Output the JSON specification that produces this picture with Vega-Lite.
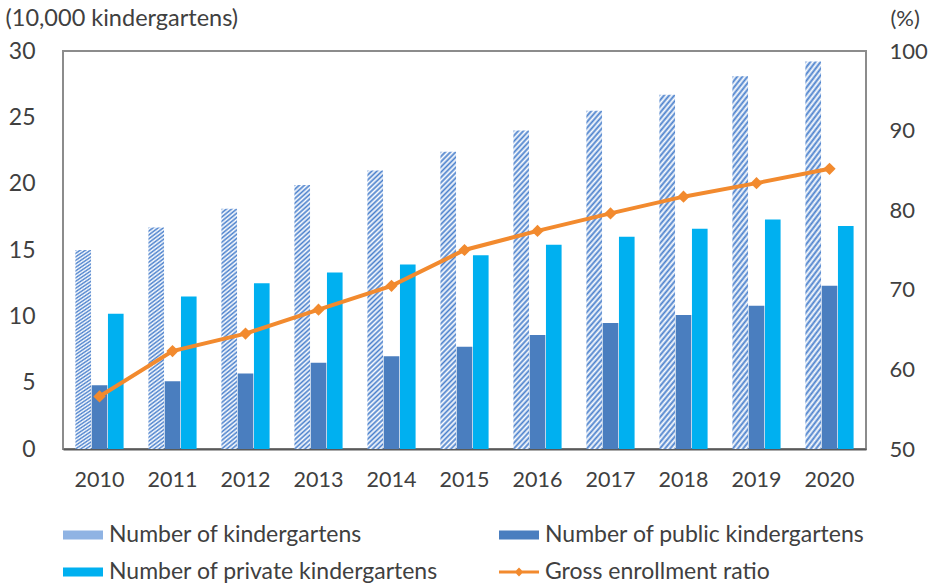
{
  "$schema": "https://vega.github.io/schema/vega-lite/v6.json",
  "width": 803,
  "height": 398,
  "autosize": {"type": "none"},
  "padding": {"left": 63, "top": 51, "right": 62, "bottom": 137},
  "background": "white",
  "config": {
    "font": "Lato",
    "view": {"stroke": "#8c8c8c", "strokeWidth": 2},
    "axis": {"labelFont": "Lato", "labelFontSize": 22, "labelColor": "#404040", "titleFont": "Lato", "titleColor": "#404040", "titleFontWeight": "normal", "grid": false, "ticks": false},
    "legend": {"orient": "bottom", "columns": 2, "labelFont": "Lato", "labelFontSize": 23, "labelColor": "#404040", "symbolSize": 1600, "symbolType": "M-1,-0.22L1,-0.22L1,0.22L-1,0.22Z", "labelOffset": 6, "rowPadding": 5, "columnPadding": 60, "offset": 24, "labelLimit": 600, "symbolStrokeWidth": 0}
  },
  "datasets": {
    "bars": [
      {"year": "2010", "series": "Number of kindergartens", "value": 15.0},
      {"year": "2011", "series": "Number of kindergartens", "value": 16.7},
      {"year": "2012", "series": "Number of kindergartens", "value": 18.1},
      {"year": "2013", "series": "Number of kindergartens", "value": 19.9},
      {"year": "2014", "series": "Number of kindergartens", "value": 21.0},
      {"year": "2015", "series": "Number of kindergartens", "value": 22.4},
      {"year": "2016", "series": "Number of kindergartens", "value": 24.0},
      {"year": "2017", "series": "Number of kindergartens", "value": 25.5},
      {"year": "2018", "series": "Number of kindergartens", "value": 26.7},
      {"year": "2019", "series": "Number of kindergartens", "value": 28.1},
      {"year": "2020", "series": "Number of kindergartens", "value": 29.2},
      {"year": "2010", "series": "Number of public kindergartens", "value": 4.8},
      {"year": "2011", "series": "Number of public kindergartens", "value": 5.1},
      {"year": "2012", "series": "Number of public kindergartens", "value": 5.7},
      {"year": "2013", "series": "Number of public kindergartens", "value": 6.5},
      {"year": "2014", "series": "Number of public kindergartens", "value": 7.0},
      {"year": "2015", "series": "Number of public kindergartens", "value": 7.7},
      {"year": "2016", "series": "Number of public kindergartens", "value": 8.6},
      {"year": "2017", "series": "Number of public kindergartens", "value": 9.5},
      {"year": "2018", "series": "Number of public kindergartens", "value": 10.1},
      {"year": "2019", "series": "Number of public kindergartens", "value": 10.8},
      {"year": "2020", "series": "Number of public kindergartens", "value": 12.3},
      {"year": "2010", "series": "Number of private kindergartens", "value": 10.2},
      {"year": "2011", "series": "Number of private kindergartens", "value": 11.5},
      {"year": "2012", "series": "Number of private kindergartens", "value": 12.5},
      {"year": "2013", "series": "Number of private kindergartens", "value": 13.3},
      {"year": "2014", "series": "Number of private kindergartens", "value": 13.9},
      {"year": "2015", "series": "Number of private kindergartens", "value": 14.6},
      {"year": "2016", "series": "Number of private kindergartens", "value": 15.4},
      {"year": "2017", "series": "Number of private kindergartens", "value": 16.0},
      {"year": "2018", "series": "Number of private kindergartens", "value": 16.6},
      {"year": "2019", "series": "Number of private kindergartens", "value": 17.3},
      {"year": "2020", "series": "Number of private kindergartens", "value": 16.8}
    ],
    "ratio": [
      {"year": "2010", "series": "Gross enrollment ratio", "value": 56.6},
      {"year": "2011", "series": "Gross enrollment ratio", "value": 62.3},
      {"year": "2012", "series": "Gross enrollment ratio", "value": 64.5},
      {"year": "2013", "series": "Gross enrollment ratio", "value": 67.5},
      {"year": "2014", "series": "Gross enrollment ratio", "value": 70.5},
      {"year": "2015", "series": "Gross enrollment ratio", "value": 75.0},
      {"year": "2016", "series": "Gross enrollment ratio", "value": 77.4},
      {"year": "2017", "series": "Gross enrollment ratio", "value": 79.6},
      {"year": "2018", "series": "Gross enrollment ratio", "value": 81.7},
      {"year": "2019", "series": "Gross enrollment ratio", "value": 83.4},
      {"year": "2020", "series": "Gross enrollment ratio", "value": 85.2}
    ]
  },
  "layer": [
    {
      "data": {"name": "bars"},
      "mark": {"type": "bar"},
      "encoding": {
        "x": {"field": "year", "type": "ordinal", "scale": {"paddingInner": 0.34, "paddingOuter": 0.17}, "axis": {"title": null, "labelAngle": 0, "labelPadding": 20, "labelFontSize": 21.5, "domainColor": "#595959", "domainWidth": 2, "ticks": false}},
        "xOffset": {"field": "series", "type": "nominal", "scale": {"domain": ["Number of kindergartens", "Number of public kindergartens", "Number of private kindergartens"], "paddingInner": 0.04}},
        "y": {"field": "value", "type": "quantitative", "scale": {"domain": [0, 30], "nice": false}, "axis": {"title": "(10,000 kindergartens)", "titleAngle": 0, "titleAlign": "left", "titleBaseline": "middle", "titleX": -58, "titleY": -33, "titleFontSize": 23.5, "values": [0, 5, 10, 15, 20, 25, 30], "labelFontSize": 23, "labelPadding": 28, "domain": false, "ticks": false}},
        "color": {
          "condition": {"test": "datum.series === 'Number of kindergartens'", "value": {"gradient": "linear", "x1": 0, "y1": 0, "x2": 0.056, "y2": 1.05, "stops": [
            {"offset": 0, "color": "#4A80CC"}, {"offset": 0.0083, "color": "#FFFFFF"}, {"offset": 0.0167, "color": "#4A80CC"}, {"offset": 0.025, "color": "#FFFFFF"}, {"offset": 0.0333, "color": "#4A80CC"}, {"offset": 0.0417, "color": "#FFFFFF"}, {"offset": 0.05, "color": "#4A80CC"}, {"offset": 0.0583, "color": "#FFFFFF"}, {"offset": 0.0667, "color": "#4A80CC"}, {"offset": 0.075, "color": "#FFFFFF"}, {"offset": 0.0833, "color": "#4A80CC"}, {"offset": 0.0917, "color": "#FFFFFF"},
            {"offset": 0.1, "color": "#4A80CC"}, {"offset": 0.1083, "color": "#FFFFFF"}, {"offset": 0.1167, "color": "#4A80CC"}, {"offset": 0.125, "color": "#FFFFFF"}, {"offset": 0.1333, "color": "#4A80CC"}, {"offset": 0.1417, "color": "#FFFFFF"}, {"offset": 0.15, "color": "#4A80CC"}, {"offset": 0.1583, "color": "#FFFFFF"}, {"offset": 0.1667, "color": "#4A80CC"}, {"offset": 0.175, "color": "#FFFFFF"}, {"offset": 0.1833, "color": "#4A80CC"}, {"offset": 0.1917, "color": "#FFFFFF"},
            {"offset": 0.2, "color": "#4A80CC"}, {"offset": 0.2083, "color": "#FFFFFF"}, {"offset": 0.2167, "color": "#4A80CC"}, {"offset": 0.225, "color": "#FFFFFF"}, {"offset": 0.2333, "color": "#4A80CC"}, {"offset": 0.2417, "color": "#FFFFFF"}, {"offset": 0.25, "color": "#4A80CC"}, {"offset": 0.2583, "color": "#FFFFFF"}, {"offset": 0.2667, "color": "#4A80CC"}, {"offset": 0.275, "color": "#FFFFFF"}, {"offset": 0.2833, "color": "#4A80CC"}, {"offset": 0.2917, "color": "#FFFFFF"},
            {"offset": 0.3, "color": "#4A80CC"}, {"offset": 0.3083, "color": "#FFFFFF"}, {"offset": 0.3167, "color": "#4A80CC"}, {"offset": 0.325, "color": "#FFFFFF"}, {"offset": 0.3333, "color": "#4A80CC"}, {"offset": 0.3417, "color": "#FFFFFF"}, {"offset": 0.35, "color": "#4A80CC"}, {"offset": 0.3583, "color": "#FFFFFF"}, {"offset": 0.3667, "color": "#4A80CC"}, {"offset": 0.375, "color": "#FFFFFF"}, {"offset": 0.3833, "color": "#4A80CC"}, {"offset": 0.3917, "color": "#FFFFFF"},
            {"offset": 0.4, "color": "#4A80CC"}, {"offset": 0.4083, "color": "#FFFFFF"}, {"offset": 0.4167, "color": "#4A80CC"}, {"offset": 0.425, "color": "#FFFFFF"}, {"offset": 0.4333, "color": "#4A80CC"}, {"offset": 0.4417, "color": "#FFFFFF"}, {"offset": 0.45, "color": "#4A80CC"}, {"offset": 0.4583, "color": "#FFFFFF"}, {"offset": 0.4667, "color": "#4A80CC"}, {"offset": 0.475, "color": "#FFFFFF"}, {"offset": 0.4833, "color": "#4A80CC"}, {"offset": 0.4917, "color": "#FFFFFF"},
            {"offset": 0.5, "color": "#4A80CC"}, {"offset": 0.5083, "color": "#FFFFFF"}, {"offset": 0.5167, "color": "#4A80CC"}, {"offset": 0.525, "color": "#FFFFFF"}, {"offset": 0.5333, "color": "#4A80CC"}, {"offset": 0.5417, "color": "#FFFFFF"}, {"offset": 0.55, "color": "#4A80CC"}, {"offset": 0.5583, "color": "#FFFFFF"}, {"offset": 0.5667, "color": "#4A80CC"}, {"offset": 0.575, "color": "#FFFFFF"}, {"offset": 0.5833, "color": "#4A80CC"}, {"offset": 0.5917, "color": "#FFFFFF"},
            {"offset": 0.6, "color": "#4A80CC"}, {"offset": 0.6083, "color": "#FFFFFF"}, {"offset": 0.6167, "color": "#4A80CC"}, {"offset": 0.625, "color": "#FFFFFF"}, {"offset": 0.6333, "color": "#4A80CC"}, {"offset": 0.6417, "color": "#FFFFFF"}, {"offset": 0.65, "color": "#4A80CC"}, {"offset": 0.6583, "color": "#FFFFFF"}, {"offset": 0.6667, "color": "#4A80CC"}, {"offset": 0.675, "color": "#FFFFFF"}, {"offset": 0.6833, "color": "#4A80CC"}, {"offset": 0.6917, "color": "#FFFFFF"},
            {"offset": 0.7, "color": "#4A80CC"}, {"offset": 0.7083, "color": "#FFFFFF"}, {"offset": 0.7167, "color": "#4A80CC"}, {"offset": 0.725, "color": "#FFFFFF"}, {"offset": 0.7333, "color": "#4A80CC"}, {"offset": 0.7417, "color": "#FFFFFF"}, {"offset": 0.75, "color": "#4A80CC"}, {"offset": 0.7583, "color": "#FFFFFF"}, {"offset": 0.7667, "color": "#4A80CC"}, {"offset": 0.775, "color": "#FFFFFF"}, {"offset": 0.7833, "color": "#4A80CC"}, {"offset": 0.7917, "color": "#FFFFFF"},
            {"offset": 0.8, "color": "#4A80CC"}, {"offset": 0.8083, "color": "#FFFFFF"}, {"offset": 0.8167, "color": "#4A80CC"}, {"offset": 0.825, "color": "#FFFFFF"}, {"offset": 0.8333, "color": "#4A80CC"}, {"offset": 0.8417, "color": "#FFFFFF"}, {"offset": 0.85, "color": "#4A80CC"}, {"offset": 0.8583, "color": "#FFFFFF"}, {"offset": 0.8667, "color": "#4A80CC"}, {"offset": 0.875, "color": "#FFFFFF"}, {"offset": 0.8833, "color": "#4A80CC"}, {"offset": 0.8917, "color": "#FFFFFF"},
            {"offset": 0.9, "color": "#4A80CC"}, {"offset": 0.9083, "color": "#FFFFFF"}, {"offset": 0.9167, "color": "#4A80CC"}, {"offset": 0.925, "color": "#FFFFFF"}, {"offset": 0.9333, "color": "#4A80CC"}, {"offset": 0.9417, "color": "#FFFFFF"}, {"offset": 0.95, "color": "#4A80CC"}, {"offset": 0.9583, "color": "#FFFFFF"}, {"offset": 0.9667, "color": "#4A80CC"}, {"offset": 0.975, "color": "#FFFFFF"}, {"offset": 0.9833, "color": "#4A80CC"}, {"offset": 0.9917, "color": "#FFFFFF"},
            {"offset": 1, "color": "#4A80CC"}
          ]}},
          "field": "series",
          "type": "nominal",
          "scale": {"domain": ["Number of kindergartens", "Number of public kindergartens", "Number of private kindergartens", "Gross enrollment ratio"], "range": ["#8FB3E3", "#4A7EBF", "#00B0F0", "#F28A2E"]},
          "legend": {
            "title": null,
            "encode": {
              "symbols": {
                "update": {
                  "shape": {"signal": "datum.value === 'Gross enrollment ratio' ? 'M-1,-0.075L1,-0.075L1,0.075L-1,0.075Z M0,-0.22L0.22,0L0,0.22L-0.22,0Z' : 'M-1,-0.22L1,-0.22L1,0.22L-1,0.22Z'"}
                }
              }
            }
          }
        }
      }
    },
    {
      "data": {"name": "ratio"},
      "mark": {"type": "line", "strokeWidth": 4, "point": {"shape": "diamond", "size": 150, "filled": true}},
      "encoding": {
        "x": {"field": "year", "type": "ordinal"},
        "y": {"field": "value", "type": "quantitative", "scale": {"domain": [50, 100], "nice": false}, "axis": {"orient": "right", "title": "(%)", "titleAngle": 0, "titleAlign": "left", "titleBaseline": "middle", "titleX": 24, "titleY": -33, "titleFontSize": 22, "values": [50, 60, 70, 80, 90, 100], "labelPadding": 23, "domain": false, "ticks": false}},
        "color": {"field": "series", "type": "nominal"}
      }
    }
  ],
  "resolve": {"scale": {"y": "independent"}}
}
